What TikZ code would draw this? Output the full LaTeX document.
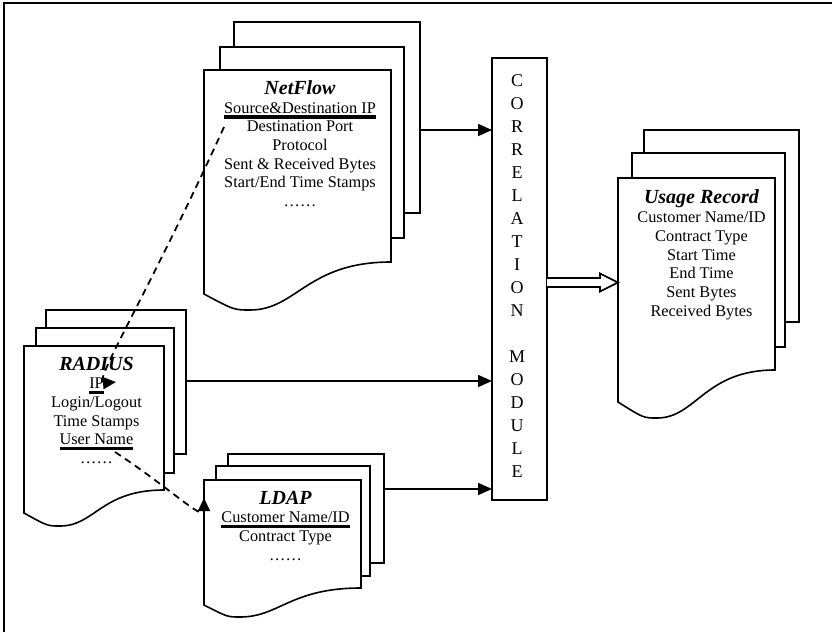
\documentclass[tikz,border=0pt]{standalone}
\usepackage{fontspec}
\setmainfont{Liberation Serif}
\usetikzlibrary{arrows.meta}

% heavy bar under a key field
\newsavebox\keybox
\newcommand\keyfield[1]{\leavevmode\sbox\keybox{#1}\rlap{\smash{\rule[-5.5pt]{\wd\keybox}{3.2pt}}}\usebox\keybox}
% record title
\newcommand\rectitle[1]{{\fontsize{20pt}{18.7pt}\selectfont\bfseries\itshape #1}}

% front sheet of a document stack with a wavy lower edge
% #1 left x, #2 top y, #3 right x, #4 right bottom y, #5 left bottom y, #6 trough x, #7 trough y
\newcommand\wavepage[7]{%
  \pgfmathsetmacro\wW{#3-#1}%
  \pgfmathsetmacro\cAx{#3-0.45*\wW}%
  \pgfmathsetmacro\cBx{#6+0.25*\wW}%
  \pgfmathsetmacro\cCx{#6-0.35*(#6-#1)}%
  \draw[sheet] (#1,#2) -- (#3,#2) -- (#3,#4)
    .. controls (\cAx,#4) and (\cBx,#7) .. (#6,#7)
    .. controls (\cCx,#7) .. (#1,#5) -- cycle;}

\begin{document}
\begin{tikzpicture}[x=1pt,y=-1pt,
  sheet/.style={draw, fill=white, line width=1.6pt, line join=miter},
  pagebox/.style={sheet, rectangle, inner sep=0pt, outer sep=0pt},
  area/.style={rectangle, inner sep=0pt, outer sep=0pt},
  txt/.style={font=\fontsize{16.3pt}{18.7pt}\selectfont, align=center, inner sep=0pt, anchor=north},
  arr/.style={line width=1.6pt, -{Triangle[length=14pt,width=12pt]}},
  dsh/.style={line width=1.8pt, dash pattern=on 7pt off 5pt, -{Triangle[length=13pt,width=12pt]}},
  hollow/.style={draw, fill=white, line width=1.6pt, line join=miter}]

\useasboundingbox (0,0) rectangle (832,632);
\draw[line width=2pt] (4,632) -- (4,3) -- (832,3);

% NetFlow stack
\node[pagebox, minimum width=186pt, minimum height=191pt] (nfb) at (327,117.5) {};
\node[pagebox, minimum width=184pt, minimum height=191pt] (nfm) at (312,142.5) {};
\wavepage{204}{70}{391}{262}{294}{250}{310}
\node[area, minimum width=187pt, minimum height=224pt] (nff) at (297.5,182) {};
\node[txt] (nft) at (300,80.4) {\rectitle{NetFlow}\\ \keyfield{Source\&Destination IP}\\ Destination Port\\ Protocol\\ Sent \& Received Bytes\\ Start/End Time Stamps\\ ……};

% RADIUS stack
\node[pagebox, minimum width=140pt, minimum height=144pt] (rdb) at (116,382) {};
\node[pagebox, minimum width=138pt, minimum height=145pt] (rdm) at (105,400.5) {};
\wavepage{24}{346}{164}{490}{513}{60}{526}
\node[area, minimum width=140pt, minimum height=167pt] (rdf) at (94,429.5) {};
\node[txt] (rdt) at (96.5,356.6) {\rectitle{RADIUS}\\ \keyfield{IP}\\ Login/Logout\\ Time Stamps\\ \keyfield{User Name}\\ ……};

% LDAP stack
\node[pagebox, minimum width=156pt, minimum height=109pt] (ldb) at (306,508.5) {};
\node[pagebox, minimum width=154pt, minimum height=110pt] (ldm) at (293,521) {};
\wavepage{204}{480}{361}{588}{605}{240}{617}
\node[area, minimum width=157pt, minimum height=125pt] (ldf) at (282.5,542.5) {};
\node[txt] (ldt) at (285.5,490.6) {\rectitle{LDAP}\\ \keyfield{Customer Name/ID}\\ Contract Type\\ ……};

% Usage Record stack
\node[pagebox, minimum width=155pt, minimum height=192pt] (urb) at (721.5,226) {};
\node[pagebox, minimum width=153pt, minimum height=194pt] (urm) at (708.5,250) {};
\wavepage{618}{178}{775}{370}{402}{657}{418}
\node[area, minimum width=157pt, minimum height=224pt] (urf) at (696.5,290) {};
\node[txt] (urt) at (701.5,189.9) {\rectitle{Usage Record}\\ Customer Name/ID\\ Contract Type\\ Start Time\\ End Time\\ Sent Bytes\\ Received Bytes};

% correlation module
\node[pagebox, minimum width=55pt, minimum height=442pt] (cm) at (519.5,279) {};
\node[txt, font=\fontsize{18pt}{23pt}\selectfont] (cmt) at (517,74)
  {C\\O\\R\\R\\E\\L\\A\\T\\I\\O\\N\\[23pt]M\\O\\D\\U\\L\\E};

% feeds into the module
\draw[arr] ([yshift=-12.5pt]nfb.east) coordinate (s1) -- (s1 -| cm.west);
\draw[arr] ([yshift=1pt]rdb.east) coordinate (s2) -- (s2 -| cm.west);
\draw[arr] ([yshift=19.5pt]ldb.east) coordinate (s3) -- (s3 -| cm.west);

% output to the usage record
\draw[hollow] (cm.east |- 0,278) -- (600,278) -- (600,273.5) -- (urf.west |- 0,282.5)
  -- (600,291.5) -- (600,287) -- (cm.east |- 0,287);

% key links between records
\coordinate (srcip) at (224,127);
\coordinate (ipmark) at (116,382);
\coordinate (uname) at (115,452);
\draw[dsh] (srcip) .. controls (150,290) and (92,384) .. (ipmark);
\draw[dsh] (uname) .. controls (170,488) and (204,522) .. (ldf.west |- 0,498);
\end{tikzpicture}
\end{document}
